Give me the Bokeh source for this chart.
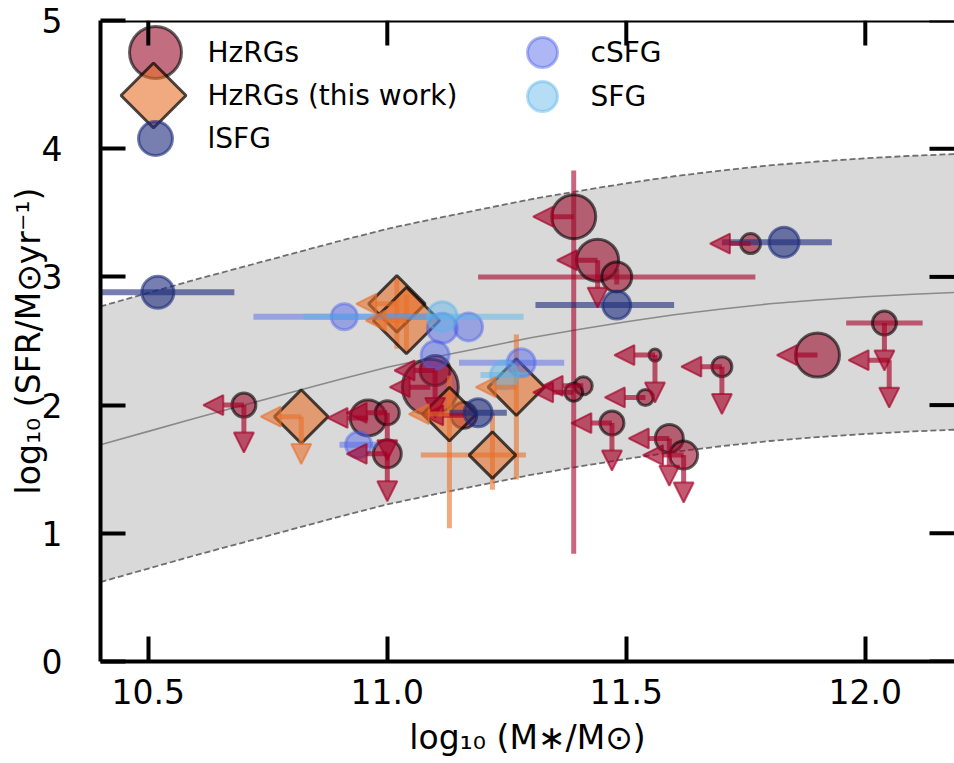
import numpy as np
from bokeh.plotting import figure
from bokeh.models import (Range1d, FixedTicker, ColumnDataSource, Arrow, NormalHead,
                          NumeralTickFormatter, Span)
from bokeh.core.properties import value
from bokeh.embed import file_html
from bokeh.resources import INLINE

# ---------------- data ----------------
# main-sequence band
ms_mass = [10.4, 10.5, 10.6, 10.7, 10.8, 10.9, 11.0, 11.1, 11.2, 11.3,
           11.4, 11.5, 11.6, 11.7, 11.8, 11.9, 12.0, 12.1, 12.2]
ms_mid = [1.69, 1.795, 1.90, 2.00, 2.10, 2.20, 2.295, 2.375, 2.45, 2.525,
          2.59, 2.65, 2.705, 2.75, 2.79, 2.82, 2.845, 2.865, 2.88]
ms_upper = [2.77, 2.875, 2.98, 3.08, 3.18, 3.28, 3.375, 3.455, 3.53, 3.605,
            3.67, 3.73, 3.785, 3.83, 3.87, 3.90, 3.925, 3.945, 3.96]
ms_lower = [0.62, 0.725, 0.83, 0.93, 1.03, 1.13, 1.225, 1.305, 1.38, 1.455,
            1.52, 1.58, 1.635, 1.68, 1.72, 1.75, 1.775, 1.795, 1.81]

# HzRGs (literature)
hz_mass = [11.39, 11.44, 11.48, 11.76, 10.70, 10.96, 11.00, 11.00, 11.10, 11.09, 11.16,
           11.41, 11.39, 11.47, 11.56, 11.54, 11.59, 11.62, 11.70, 11.90, 12.04, 12.05]
hz_sfr = [3.47, 3.13, 3.00, 3.26, 2.00, 1.90, 1.94, 1.62, 2.27, 2.14, 1.92,
          2.15, 2.10, 1.86, 2.39, 2.06, 1.74, 1.61, 2.30, 2.39, 2.64, 2.35]
hz_msize = [44, 42, 30, 20, 24, 36, 24, 28, 30, 56, 26,
            18, 18, 24, 12, 16, 28, 28, 20, 44, 24, 0]
hz_mass_ul = [1, 1, 0, 1, 1, 1, 1, 1, 1, 1, 1, 1, 1, 1, 1, 1, 1, 1, 1, 1, 0, 1]
hz_sfr_ul = [0, 1, 0, 0, 1, 0, 1, 1, 1, 0, 0, 0, 0, 1, 1, 0, 1, 1, 1, 0, 1, 1]
hz_mass_err = [0, 0, 0.29, 0, 0, 0, 0, 0, 0, 0, 0, 0, 0, 0, 0, 0, 0, 0, 0, 0, 0.08, 0]
hz_sfr_err_lo = [2.63, 0, 0.06, 0, 0, 0, 0, 0, 0, 0, 0, 0, 0, 0, 0, 0, 0, 0, 0, 0, 0, 0]
hz_sfr_err_hi = [0.36, 0, 0.06, 0, 0, 0, 0, 0, 0, 0, 0, 0, 0, 0, 0, 0, 0, 0, 0, 0, 0, 0]

# HzRGs (this work)
tw_mass = [11.02, 11.04, 10.82, 11.13, 11.22, 11.27]
tw_sfr = [2.79, 2.66, 1.91, 1.93, 1.61, 2.14]
tw_msize = [40, 47, 38, 38, 33, 40]
tw_mass_ul = [1, 1, 1, 1, 0, 1]
tw_sfr_ul = [0, 0, 1, 0, 0, 0]
tw_mass_err_lo = [0, 0, 0, 0, 0.15, 0]
tw_mass_err_hi = [0, 0, 0, 0, 0.07, 0]
tw_sfr_err_lo = [0.35, 0.25, 0, 0.89, 0.27, 0.72]
tw_sfr_err_hi = [0.20, 0.20, 0, 0.30, 0.33, 0.41]

# lSFG
ls_mass = [10.52, 11.48, 11.83, 11.19]
ls_sfr = [2.88, 2.78, 3.27, 1.94]
ls_msize = [32, 28, 30, 28]
ls_err_lo = [0.16, 0.17, 0.13, 0.06]
ls_err_hi = [0.16, 0.12, 0.10, 0.06]

# cSFG
cs_mass = [10.91, 11.115, 11.17, 11.10, 11.28, 10.94]
cs_sfr = [2.69, 2.60, 2.61, 2.39, 2.33, 1.69]
cs_msize = [26, 30, 28, 28, 28, 26]
cs_err_lo = [0.19, 0, 0, 0, 0.13, 0.04]
cs_err_hi = [0.19, 0, 0, 0, 0.09, 0.04]

# SFG
sf_mass = [11.115, 11.245]
sf_sfr = [2.69, 2.235]
sf_msize = [30, 28]
sf_err_lo = [0.29, 0.05]
sf_err_hi = [0.17, 0.05]

# axis ticks and legend labels
x_ticks = [10.5, 11.0, 11.5, 12.0]
y_ticks = [0, 1, 2, 3, 4, 5]
legend_labels = ["HzRGs", "HzRGs (this work)", "lSFG", "cSFG", "SFG"]

# ---------------- styles / layout ----------------
FONT = "DejaVu Sans"
C_HZ = "#9a0c2c"
C_AR = "#a50026"
C_TW = "#e8702a"
C_LS = "#1a2a7a"
C_CS = "#4b5fe8"
C_SF = "#5ab4e8"
LEFT_LEN = 0.085
DOWN_LEN = 0.37
W, H = 954, 763
FL, FR, FT, FB = 100, 954, 20, 661          # frame edges in screen pixels
X0, X1 = 10.4, 10.4 + (FR - FL) / 478.0

p = figure(width=W, height=H, x_range=Range1d(X0, X1), y_range=Range1d(0, 5),
           output_backend="svg", toolbar_location=None,
           min_border_left=FL, min_border_right=W - FR, min_border_top=FT,
           min_border_bottom=H - FB)
p.outline_line_color = None
p.grid.visible = False
p.background_fill_color = "white"
p.border_fill_color = "white"
# screen-pixel ranges used only to place the legend
p.extra_x_ranges = {"lgx": Range1d(FL, FR)}
p.extra_y_ranges = {"lgy": Range1d(FB, FT)}

for ax, ticks in ((p.xaxis[0], x_ticks), (p.yaxis[0], y_ticks)):
    ax.ticker = FixedTicker(ticks=ticks)
    ax.axis_line_width = 4
    ax.axis_line_color = "black"
    ax.major_tick_in = 25
    ax.major_tick_out = 0
    ax.major_tick_line_width = 4
    ax.major_tick_line_color = "black"
    ax.minor_tick_in = 0
    ax.minor_tick_out = 0
    ax.minor_tick_line_color = None
    ax.major_label_text_font = FONT
    ax.major_label_text_font_size = "33px"
    ax.major_label_text_color = "black"
    ax.axis_label_text_font = FONT
    ax.axis_label_text_font_size = "33px"
    ax.axis_label_text_font_style = "normal"
    ax.axis_label_text_color = "black"

p.xaxis[0].formatter = NumeralTickFormatter(format="0.0")
p.yaxis[0].formatter = NumeralTickFormatter(format="0")
p.xaxis[0].major_label_standoff = 17
p.yaxis[0].major_label_standoff = 38
p.xaxis[0].axis_label = "log₁₀ (M∗/M⊙)"
p.yaxis[0].axis_label = "log₁₀ (SFR/M⊙yr⁻¹)"
p.xaxis[0].axis_label_standoff = 11
p.yaxis[0].axis_label_standoff = -9

# ---------------- main-sequence band ----------------
p.varea(x=ms_mass, y1=ms_lower, y2=ms_upper, fill_color="gray", fill_alpha=0.3)
p.line(ms_mass, ms_upper, line_color="#6e6e6e", line_width=1.8, line_dash="6 3")
p.line(ms_mass, ms_lower, line_color="#6e6e6e", line_width=1.8, line_dash="6 3")
p.line(ms_mass, ms_mid, line_color="#8a8a8a", line_width=1.6)


def errbars(mass, sfr, xlo, xhi, ylo, yhi, color, alpha, width):
    x0, y0, x1, y1 = [], [], [], []
    for m, s, a, b, c, d in zip(mass, sfr, xlo, xhi, ylo, yhi):
        if a or b:
            x0.append(m - a); x1.append(m + b); y0.append(s); y1.append(s)
        if c or d:
            x0.append(m); x1.append(m); y0.append(s - c); y1.append(s + d)
    if x0:
        p.segment(x0=x0, y0=y0, x1=x1, y1=y1, line_color=color, line_alpha=alpha,
                  line_width=width)


def arrows(mass, sfr, mflag, sflag, color, alpha):
    x0, y0, x1, y1 = [], [], [], []
    for m, s, fm, fs in zip(mass, sfr, mflag, sflag):
        if fm:
            x0.append(m); y0.append(s); x1.append(m - LEFT_LEN); y1.append(s)
        if fs:
            x0.append(m); y0.append(s); x1.append(m); y1.append(s - DOWN_LEN)
    src = ColumnDataSource(dict(x0=x0, y0=y0, x1=x1, y1=y1))
    head = NormalHead(size=20, fill_color=color, fill_alpha=alpha, line_color=color,
                      line_alpha=alpha, line_width=2)
    p.add_layout(Arrow(end=head, x_start="x0", y_start="y0", x_end="x1", y_end="y1",
                       source=src, line_color=color, line_alpha=alpha, line_width=5))


STY = {
    "hz": dict(marker="circle", fill_color=C_HZ, fill_alpha=0.6, line_color="black",
               line_alpha=0.6, line_width=3),
    "tw": dict(marker="square", angle=np.pi / 4, fill_color=C_TW, fill_alpha=0.6,
               line_color="black", line_alpha=0.7, line_width=3),
    "ls": dict(marker="circle", fill_color=C_LS, fill_alpha=0.6, line_color=C_LS,
               line_alpha=0.6, line_width=3),
    "cs": dict(marker="circle", fill_color=C_CS, fill_alpha=0.45, line_color=C_CS,
               line_alpha=0.45, line_width=3),
    "sf": dict(marker="circle", fill_color=C_SF, fill_alpha=0.45, line_color=C_SF,
               line_alpha=0.45, line_width=3),
}

errbars(hz_mass, hz_sfr, hz_mass_err, hz_mass_err, hz_sfr_err_lo, hz_sfr_err_hi, C_AR, 0.6, 5)
p.scatter(hz_mass, hz_sfr, size=hz_msize, **STY["hz"])
arrows(hz_mass, hz_sfr, hz_mass_ul, hz_sfr_ul, C_AR, 0.65)

errbars(tw_mass, tw_sfr, tw_mass_err_lo, tw_mass_err_hi, tw_sfr_err_lo, tw_sfr_err_hi, C_TW, 0.6, 5)
p.scatter(tw_mass, tw_sfr, size=tw_msize, **STY["tw"])
arrows(tw_mass, tw_sfr, tw_mass_ul, tw_sfr_ul, C_TW, 0.6)

zls = [0] * len(ls_mass)
errbars(ls_mass, ls_sfr, ls_err_lo, ls_err_hi, zls, zls, C_LS, 0.6, 6)
p.scatter(ls_mass, ls_sfr, size=ls_msize, **STY["ls"])

zcs = [0] * len(cs_mass)
errbars(cs_mass, cs_sfr, cs_err_lo, cs_err_hi, zcs, zcs, C_CS, 0.45, 6)
p.scatter(cs_mass, cs_sfr, size=cs_msize, **STY["cs"])

zsf = [0] * len(sf_mass)
errbars(sf_mass, sf_sfr, sf_err_lo, sf_err_hi, zsf, zsf, C_SF, 0.5, 6)
p.scatter(sf_mass, sf_sfr, size=sf_msize, **STY["sf"])

# ---------------- legend (screen-pixel placement, no frame) ----------------
leg_keys = ["hz", "tw", "ls", "cs", "sf"]
leg_mx = [155, 153, 155, 542, 542]
leg_my = [52, 95, 138, 52, 96]
leg_ms = [52, 46, 34, 30, 30]
leg_tx = [207, 207, 207, 590, 590]
for k, mx, my, ms in zip(leg_keys, leg_mx, leg_my, leg_ms):
    p.scatter([mx], [my], size=ms, x_range_name="lgx", y_range_name="lgy", **STY[k])
p.text(x=leg_tx, y=leg_my, text=legend_labels, x_range_name="lgx", y_range_name="lgy",
       text_font=value(FONT), text_font_size="28px", text_baseline="middle",
       text_align="left", text_color="black")

# ---------------- top spine and inward ticks on top / right ----------------
p.add_layout(Span(location=5, dimension="width", line_color="black", line_width=4))
tick_len_y = 25 * 5.0 / (FB - FT)
tick_len_x = 25 * (X1 - X0) / (FR - FL)
p.segment(x0=x_ticks, y0=[5] * len(x_ticks), x1=x_ticks, y1=[5 - tick_len_y] * len(x_ticks),
          line_color="black", line_width=4)
p.segment(x0=[X1] * len(y_ticks), y0=y_ticks, x1=[X1 - tick_len_x] * len(y_ticks),
          y1=y_ticks, line_color="black", line_width=4)

open("out.html", "w").write(file_html(p, INLINE))
